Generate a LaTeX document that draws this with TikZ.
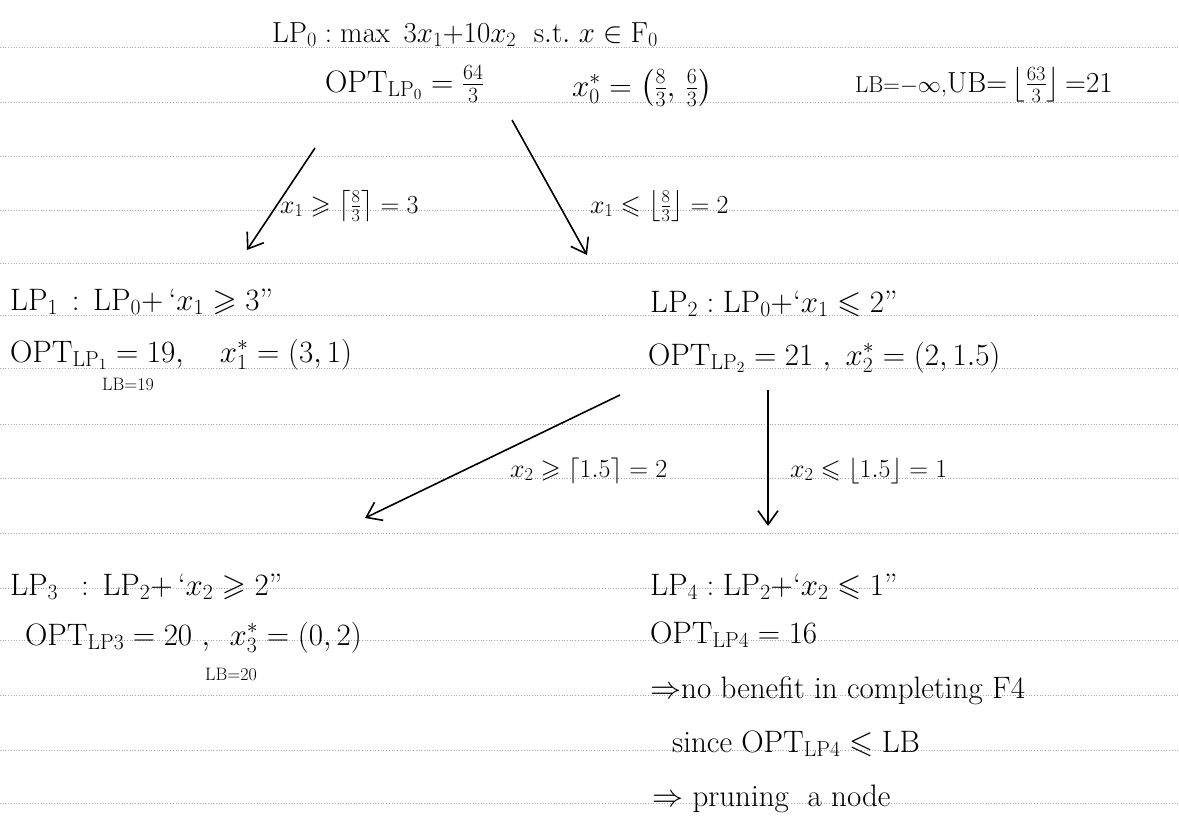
\RequirePackage{fix-cm}
\documentclass[tikz,border=0pt]{standalone}
\usepackage{amsmath,amssymb}
\usetikzlibrary{arrows.meta}
\begin{document}
\begin{tikzpicture}[x=1pt,y=-1pt,
  txt/.style={anchor=base west, inner sep=0pt, font=\fontsize{31}{36}\selectfont},
  mid/.style={anchor=base west, inner sep=0pt, font=\fontsize{26}{30}\selectfont},
  small/.style={anchor=base west, inner sep=0pt, font=\fontsize{18}{20}\selectfont},
  branch/.style={line width=1.6pt, -{Straight Barb[length=14pt,width=20pt,line width=1.6pt]}},
  rule/.style={black!35, dotted, line width=0.7pt}]
\useasboundingbox (0,0) rectangle (1179,833);
\foreach \y in {47,102,156,210,263,315,368,424,478,533,588,640,695,750,803}
  \draw[rule] (0,\y) -- (1179,\y);
% root
\node[txt, font=\fontsize{29}{34}\selectfont] (lp0) at (272,42) {$\mathrm{LP}_0:\max\ 3x_1{+}10x_2\ \ \mathrm{s.t.}\ x\in\mathrm{F}_0$};
\node[txt] (opt0) at (325,92) {$\mathrm{OPT}_{\mathrm{LP}_0}=\frac{64}{3}$};
\node[txt] (x0) at (572,96) {$x_0^{*}=\left(\frac{8}{3},\,\frac{6}{3}\right)$};
\node[anchor=base west, inner sep=0pt] (bnd) at (855,92)
  {{\fontsize{23}{26}\selectfont$\mathrm{LB}{=}{-}\infty,$}{\fontsize{29}{34}\selectfont$\mathrm{UB}{=}\left\lfloor\frac{63}{3}\right\rfloor{=}21$}};
% branch 1
\coordinate (e1s) at (315,148); \coordinate (e1t) at (247,250);
\coordinate (e2s) at (512,120); \coordinate (e2t) at (587,255);
\draw[branch] (e1s) -- (e1t);
\draw[branch] (e2s) -- (e2t);
\node[mid] (l1) at (280,213) {$x_1\geqslant\left\lceil\frac{8}{3}\right\rceil=3$};
\node[mid] (l2) at (590,213) {$x_1\leqslant\left\lfloor\frac{8}{3}\right\rfloor=2$};
% LP1
\node[txt] (lp1) at (10,310) {$\mathrm{LP}_1\,:\,\mathrm{LP}_0+\,$`$x_1\geqslant 3$''};
\node[txt] (opt1) at (10,362) {$\mathrm{OPT}_{\mathrm{LP}_1}=19,\quad x_1^{*}=(3,1)$};
\node[small] (lb1) at (102,390) {$\mathrm{LB}{=}19$};
% LP2
\node[txt] (lp2) at (650,312) {$\mathrm{LP}_2:\mathrm{LP}_0+$`$x_1\leqslant 2$''};
\node[txt] (opt2) at (648,365) {$\mathrm{OPT}_{\mathrm{LP}_2}=21\ ,\ x_2^{*}=(2,1.5)$};
% branch 2
\coordinate (e3s) at (620,395); \coordinate (e3t) at (365,518);
\coordinate (e4s) at (768,390); \coordinate (e4t) at (768,526);
\draw[branch] (e3s) -- (e3t);
\draw[branch] (e4s) -- (e4t);
\node[mid] (l3) at (510,477) {$x_2\geqslant\lceil 1.5\rceil=2$};
\node[mid] (l4) at (790,477) {$x_2\leqslant\lfloor 1.5\rfloor=1$};
% LP3
\node[txt] (lp3) at (10,595) {$\mathrm{LP}_3\ \,:\,\mathrm{LP}_2+\,$`$x_2\geqslant 2$''};
\node[txt] (opt3) at (25,645) {$\mathrm{OPT}_{\mathrm{LP}3}=20\ ,\ \,x_3^{*}=(0,2)$};
\node[small] (lb3) at (205,680) {$\mathrm{LB}{=}20$};
% LP4
\node[txt] (lp4) at (650,595) {$\mathrm{LP}_4:\mathrm{LP}_2+$`$x_2\leqslant 1$''};
\node[txt] (opt4) at (650,643) {$\mathrm{OPT}_{\mathrm{LP}4}=16$};
\node[txt] (n1) at (650,698) {$\Rightarrow$no benefit in completing F4};
\node[txt] (n2) at (672,752) {since\ $\mathrm{OPT}_{\mathrm{LP}4}\leqslant\mathrm{LB}$};
\node[txt] (n3) at (652,806) {$\Rightarrow$ pruning\ \ a node};
\end{tikzpicture}
\end{document}
